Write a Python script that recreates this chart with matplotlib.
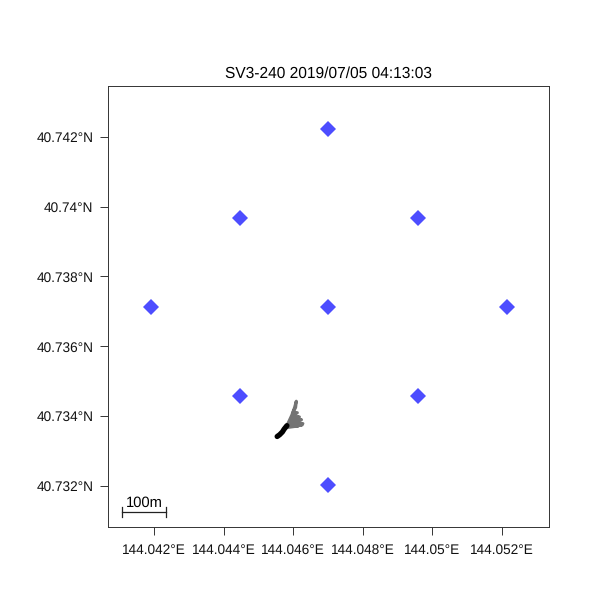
import matplotlib
matplotlib.use("Agg")
import matplotlib.pyplot as plt

plt.rcParams['font.family'] = ['Liberation Sans', 'DejaVu Sans']
plt.rcParams['text.hinting'] = 'none'

# sensor positions
sensor_lon = [144.04700, 144.04447, 144.04960, 144.04191, 144.04700, 144.05213, 144.04447, 144.04960, 144.04700]
sensor_lat = [40.74222, 40.73968, 40.73968, 40.73712, 40.73712, 40.73712, 40.73458, 40.73458, 40.73204]

# track, older part
grey_lon = [144.04582, 144.04596, 144.04604, 144.04609, 144.04607, 144.04600, 144.04612, 144.04598, 144.04618,
            144.04595, 144.04624, 144.04590, 144.04628, 144.04594, 144.04626, 144.04588, 144.04615, 144.04585]
grey_lat = [40.73373, 40.73403, 40.73425, 40.73443, 40.73425, 40.73412, 40.73410, 40.73400, 40.73398,
            40.73392, 40.73390, 40.73384, 40.73379, 40.73378, 40.73375, 40.73372, 40.73372, 40.73368]

# track, latest part
black_lon = [144.04554, 144.04561, 144.04569, 144.04574, 144.04582]
black_lat = [40.73342, 40.73347, 40.73355, 40.73363, 40.73373]

x_ticks = [144.042, 144.044, 144.046, 144.048, 144.05, 144.052]
x_labels = ["144.042°E", "144.044°E", "144.046°E", "144.048°E", "144.05°E", "144.052°E"]
y_ticks = [40.732, 40.734, 40.736, 40.738, 40.74, 40.742]
y_labels = ["40.732°N", "40.734°N", "40.736°N", "40.738°N", "40.74°N", "40.742°N"]

scale_lon = [144.04108, 144.04236]
scale_lat = 40.73126

fig = plt.figure(figsize=(6, 6), dpi=100)
ax = fig.add_axes([108 / 600, 1 - 527 / 600, 441 / 600, 441 / 600])

ax.plot(sensor_lon, sensor_lat, ls="none", marker="D", ms=8.2, color="#4d4dff", mew=0)
ax.plot(grey_lon, grey_lat, color="#747474", lw=2.2, solid_joinstyle="round", solid_capstyle="round")
ax.plot(black_lon, black_lat, color="black", lw=3.8, solid_capstyle="round")

# scale bar
ax.plot(scale_lon, [scale_lat, scale_lat], color="#222222", lw=0.9)
for lon in scale_lon:
    ax.plot([lon, lon], [scale_lat - 0.00013, scale_lat + 0.00013], color="#222222", lw=0.9)
ax.text(sum(scale_lon) / 2, scale_lat + 0.00005, "100m", ha="center", va="bottom", fontsize=10.6)

ax.set_xlim(144.04068, 144.05335)
ax.set_ylim(40.73083, 40.74345)
ax.set_xticks(x_ticks)
ax.set_xticklabels(x_labels)
ax.set_yticks(y_ticks)
ax.set_yticklabels(y_labels)
ax.tick_params(length=5.8, width=0.7, color="#333333", labelsize=9.8, labelcolor="#111111")
ax.tick_params(axis="x", pad=6)
ax.tick_params(axis="y", pad=4.8)
for s in ax.spines.values():
    s.set_linewidth(0.7)
    s.set_color("#333333")

ax.set_title("SV3-240 2019/07/05 04:13:03", fontsize=11.2, pad=6)

fig.savefig("out.png", dpi=100)
